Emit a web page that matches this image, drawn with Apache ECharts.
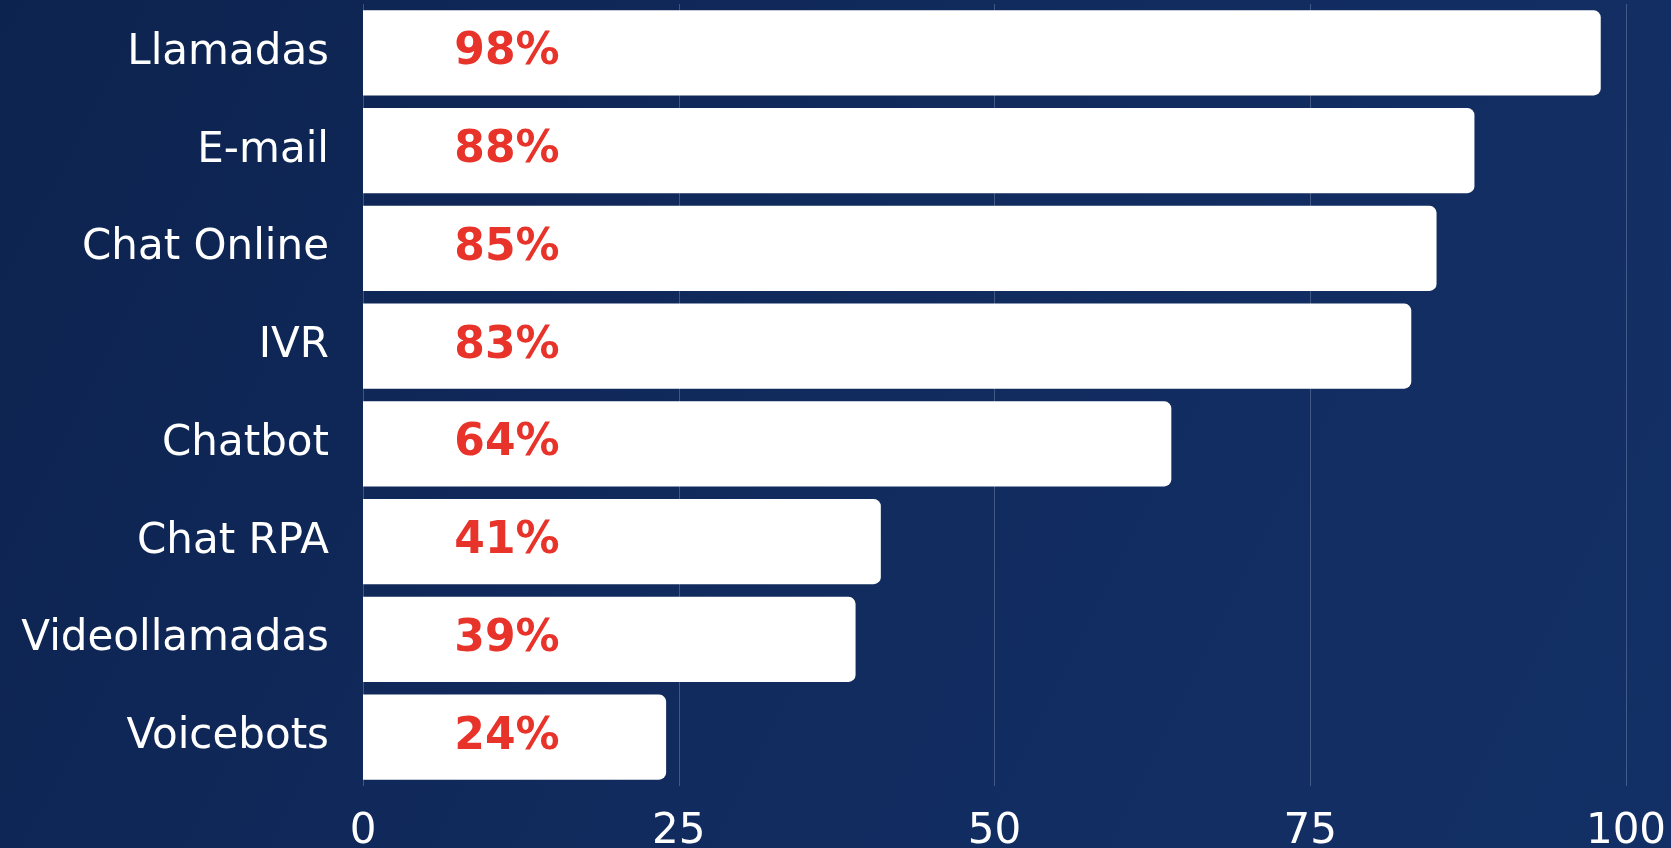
<!DOCTYPE html>
<html>
<head>
<meta charset="utf-8">
<script src="https://cdn.jsdelivr.net/npm/echarts@6/dist/echarts.min.js"></script>
<style>
html,body{margin:0;padding:0;background:#0f2656;}
#chart{width:1671px;height:848px;}
</style>
</head>
<body>
<div id="chart"></div>
<script>
const categories = ['Llamadas', 'E-mail', 'Chat Online', 'IVR', 'Chatbot', 'Chat RPA', 'Videollamadas', 'Voicebots'];
const values = [98, 88, 85, 83, 64, 41, 39, 24];
const xTicks = [0, 25, 50, 75, 100];

const chart = echarts.init(document.getElementById('chart'));
chart.setOption({
  animation: false,
  backgroundColor: {
    type: 'linear', x: 0, y: 0, x2: 1, y2: 1,
    colorStops: [
      { offset: 0, color: '#0d234f' },
      { offset: 0.5, color: '#112b5e' },
      { offset: 1, color: '#133066' }
    ]
  },
  grid: { left: 363, right: 45, top: 4, bottom: 62, containLabel: false, outerBoundsMode: 'none' },
  xAxis: {
    type: 'value',
    min: xTicks[0],
    max: xTicks[xTicks.length - 1],
    interval: 25,
    axisLine: { show: false },
    axisTick: { show: false },
    splitLine: { show: true, lineStyle: { color: 'rgba(190,205,235,0.28)', width: 1 } },
    axisLabel: {
      color: '#ffffff',
      fontFamily: 'DejaVu Sans',
      fontSize: 42,
      margin: 25
    }
  },
  yAxis: {
    type: 'category',
    data: categories,
    inverse: true,
    axisLine: { show: false },
    axisTick: { show: false },
    axisLabel: {
      color: '#ffffff',
      fontFamily: 'DejaVu Sans',
      fontSize: 42,
      margin: 34
    }
  },
  series: [{
    type: 'bar',
    data: values,
    barCategoryGap: '13%',
    itemStyle: { color: '#ffffff', borderRadius: [0, 7, 7, 0] },
    label: {
      show: true,
      position: [144, '50%'],
      align: 'center',
      verticalAlign: 'middle',
      formatter: '{c}%',
      color: '#e8332a',
      fontFamily: 'DejaVu Sans',
      fontWeight: 'bold',
      fontSize: 44
    }
  }]
});
</script>
</body>
</html>
